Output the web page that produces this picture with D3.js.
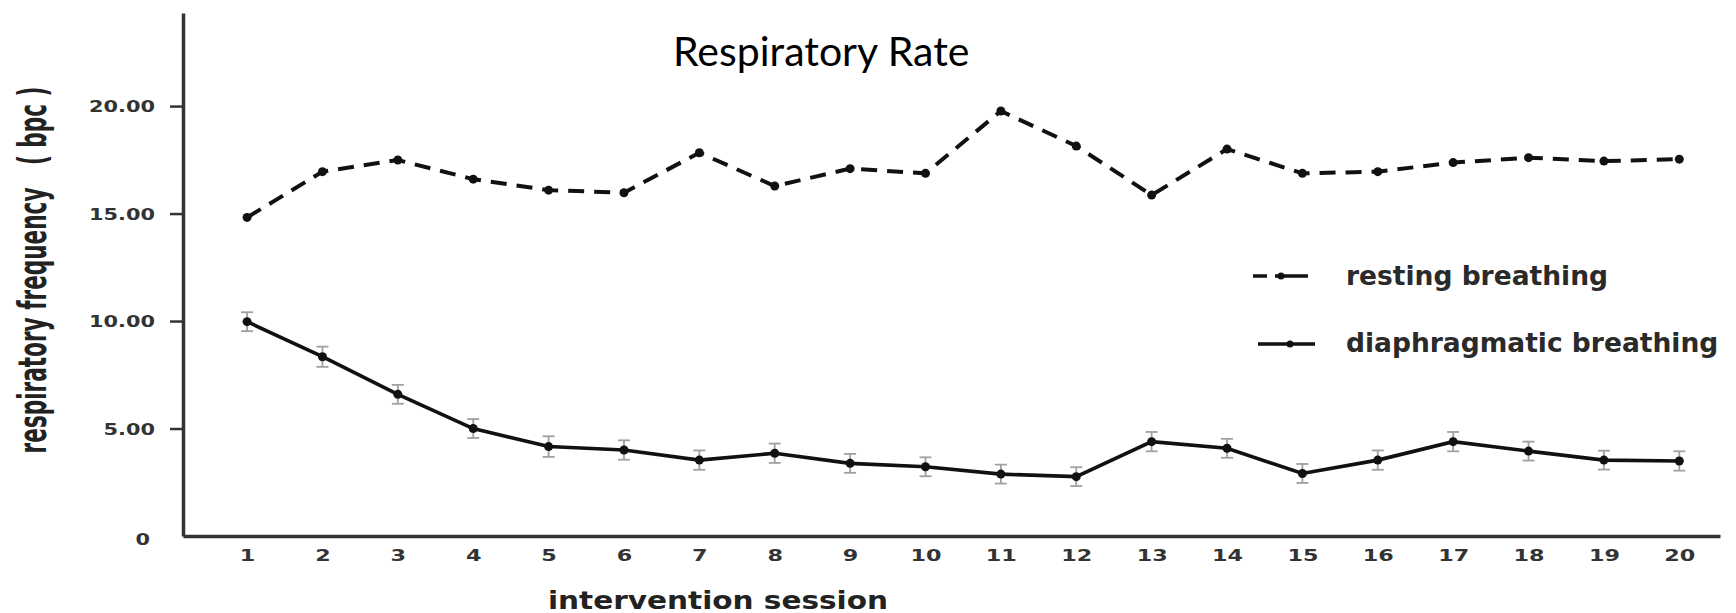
<!DOCTYPE html>
<html>
<head>
<meta charset="utf-8">
<script src="https://cdn.jsdelivr.net/npm/d3@7"></script>
<style>
  body { margin: 0; background: #fff; }
  svg { display: block; }
</style>
</head>
<body>
<script>
// session numbers on the x axis
const sessions = [1, 2, 3, 4, 5, 6, 7, 8, 9, 10, 11, 12, 13, 14, 15, 16, 17, 18, 19, 20];

// respiratory frequency (bpc) per session
const resting = [14.82, 16.95, 17.49, 16.60, 16.09, 15.97, 17.83, 16.28, 17.09, 16.87,
                 19.77, 18.14, 15.86, 18.00, 16.87, 16.95, 17.37, 17.60, 17.44, 17.53];
const diaphragmatic = [9.97, 8.34, 6.59, 5.00, 4.16, 4.00, 3.53, 3.85, 3.38, 3.22,
                       2.88, 2.76, 4.39, 4.08, 2.91, 3.53, 4.39, 3.95, 3.53, 3.49];
// error bar half-length for diaphragmatic breathing
const diaphragmaticErr = [0.44, 0.47, 0.44, 0.44, 0.48, 0.45, 0.45, 0.45, 0.44, 0.44,
                          0.44, 0.44, 0.45, 0.44, 0.44, 0.45, 0.45, 0.44, 0.44, 0.45];

const yTicks = [0, 5, 10, 15, 20];
const seriesNames = ["resting breathing", "diaphragmatic breathing"];

const width = 1736;
const height = 613;
const ink = "#111";
const axisColor = "#333";

const svg = d3.select("body")
  .append("svg")
  .attr("width", width)
  .attr("height", height);

// scales (original figure is stretched horizontally, so text gets scaleX below)
const x = d3.scaleLinear()
  .domain([0.15, 20.54])
  .range([183, 1720]);

const y = d3.scaleLinear()
  .domain([0, 24.33])
  .range([536, 13]);

// y axis
const yAxis = d3.axisLeft(y)
  .tickValues(yTicks)
  .tickSizeInner(13)
  .tickSizeOuter(0)
  .tickFormat(d => d === 0 ? "0" : d3.format(".2f")(d));

const gy = svg.append("g")
  .attr("transform", "translate(183,0)")
  .call(yAxis);

gy.select(".domain")
  .style("stroke", axisColor)
  .style("stroke-width", "3.5px");

gy.selectAll(".tick line")
  .style("stroke", axisColor)
  .style("stroke-width", "2.5px")
  .style("display", d => d === 0 ? "none" : null);

gy.selectAll(".tick text")
  .attr("x", 0)
  .attr("dy", null)
  .attr("text-anchor", "end")
  .attr("transform", d => d === 0 ? "translate(-33,8.5) scale(1.39,1)" : "translate(-28,5.5) scale(1.39,1)")
  .style("font-family", "DejaVu Sans")
  .style("font-weight", "bold")
  .style("font-size", "15px")
  .style("fill", axisColor);

// x axis
const xAxis = d3.axisBottom(x)
  .tickValues(sessions)
  .tickSize(0)
  .tickFormat(d3.format("d"));

const gx = svg.append("g")
  .attr("transform", "translate(0,536)")
  .call(xAxis);

gx.select(".domain")
  .style("stroke", axisColor)
  .style("stroke-width", "3.5px");

gx.selectAll(".tick text")
  .attr("y", 0)
  .attr("dy", null)
  .attr("text-anchor", "middle")
  .attr("transform", "translate(0,25) scale(1.35,1)")
  .style("font-family", "DejaVu Sans")
  .style("font-weight", "bold")
  .style("font-size", "16.5px")
  .style("fill", axisColor);

// axis titles
svg.append("text")
  .attr("transform", "translate(548,609) scale(1.23,1)")
  .style("font-family", "DejaVu Sans")
  .style("font-weight", "bold")
  .style("font-size", "24px")
  .style("fill", "#222")
  .text("intervention session");

svg.append("text")
  .attr("transform", "translate(46,270) scale(1.6,1) rotate(-90)")
  .attr("text-anchor", "middle")
  .style("font-family", "DejaVu Sans Condensed, DejaVu Sans")
  .style("font-weight", "bold")
  .style("font-size", "24px")
  .style("white-space", "pre")
  .style("fill", "#222")
  .text("respiratory frequency   ( bpc )");

// chart title
svg.append("text")
  .attr("x", 673)
  .attr("y", 66)
  .style("font-family", "Lato")
  .style("font-size", "41px")
  .style("fill", "#000")
  .text("Respiratory Rate");

// line generator
const line = d3.line()
  .x((d, i) => x(sessions[i]))
  .y(d => y(d));

// resting breathing (dashed)
svg.append("path")
  .datum(resting)
  .attr("d", line)
  .style("fill", "none")
  .style("stroke", ink)
  .style("stroke-width", "4px")
  .style("stroke-dasharray", "16,10");

svg.selectAll(".restDot")
  .data(resting)
  .enter()
  .append("circle")
  .attr("class", "restDot")
  .attr("cx", (d, i) => x(sessions[i]))
  .attr("cy", d => y(d))
  .attr("r", 4.5)
  .style("fill", ink);

// diaphragmatic breathing error bars
const errG = svg.selectAll(".err")
  .data(diaphragmatic)
  .enter()
  .append("g")
  .attr("class", "err")
  .style("stroke", "#a0a0a0")
  .style("stroke-width", "1.8px");

errG.append("line")
  .attr("x1", (d, i) => x(sessions[i]))
  .attr("x2", (d, i) => x(sessions[i]))
  .attr("y1", (d, i) => y(d + diaphragmaticErr[i]))
  .attr("y2", (d, i) => y(d - diaphragmaticErr[i]));

[1, -1].forEach(sign => {
  errG.append("line")
    .attr("x1", (d, i) => x(sessions[i]) - 6)
    .attr("x2", (d, i) => x(sessions[i]) + 6)
    .attr("y1", (d, i) => y(d + sign * diaphragmaticErr[i]))
    .attr("y2", (d, i) => y(d + sign * diaphragmaticErr[i]));
});

// diaphragmatic breathing (solid)
svg.append("path")
  .datum(diaphragmatic)
  .attr("d", line)
  .style("fill", "none")
  .style("stroke", ink)
  .style("stroke-width", "3.6px");

svg.selectAll(".diaDot")
  .data(diaphragmatic)
  .enter()
  .append("circle")
  .attr("class", "diaDot")
  .attr("cx", (d, i) => x(sessions[i]))
  .attr("cy", d => y(d))
  .attr("r", 4.5)
  .style("fill", ink);

// legend
const legend = svg.append("g")
  .attr("class", "legend");

const legendRows = [
  { name: seriesNames[0], dash: "14,8,40", y: 276, x1: 1253, x2: 1308, dot: 1281, ty: 285 },
  { name: seriesNames[1], dash: null, y: 344, x1: 1258, x2: 1315, dot: 1290, ty: 352 }
];

legendRows.forEach(r => {
  legend.append("line")
    .attr("x1", r.x1)
    .attr("x2", r.x2)
    .attr("y1", r.y)
    .attr("y2", r.y)
    .style("stroke", ink)
    .style("stroke-width", "3.5px")
    .style("stroke-dasharray", r.dash);

  legend.append("circle")
    .attr("cx", r.dot)
    .attr("cy", r.y)
    .attr("r", 3.5)
    .style("fill", ink);

  legend.append("text")
    .attr("x", 1346)
    .attr("y", r.ty)
    .style("font-family", "DejaVu Sans")
    .style("font-weight", "bold")
    .style("font-size", "26.5px")
    .style("fill", "#2a2a2a")
    .text(r.name);
});
</script>
</body>
</html>
